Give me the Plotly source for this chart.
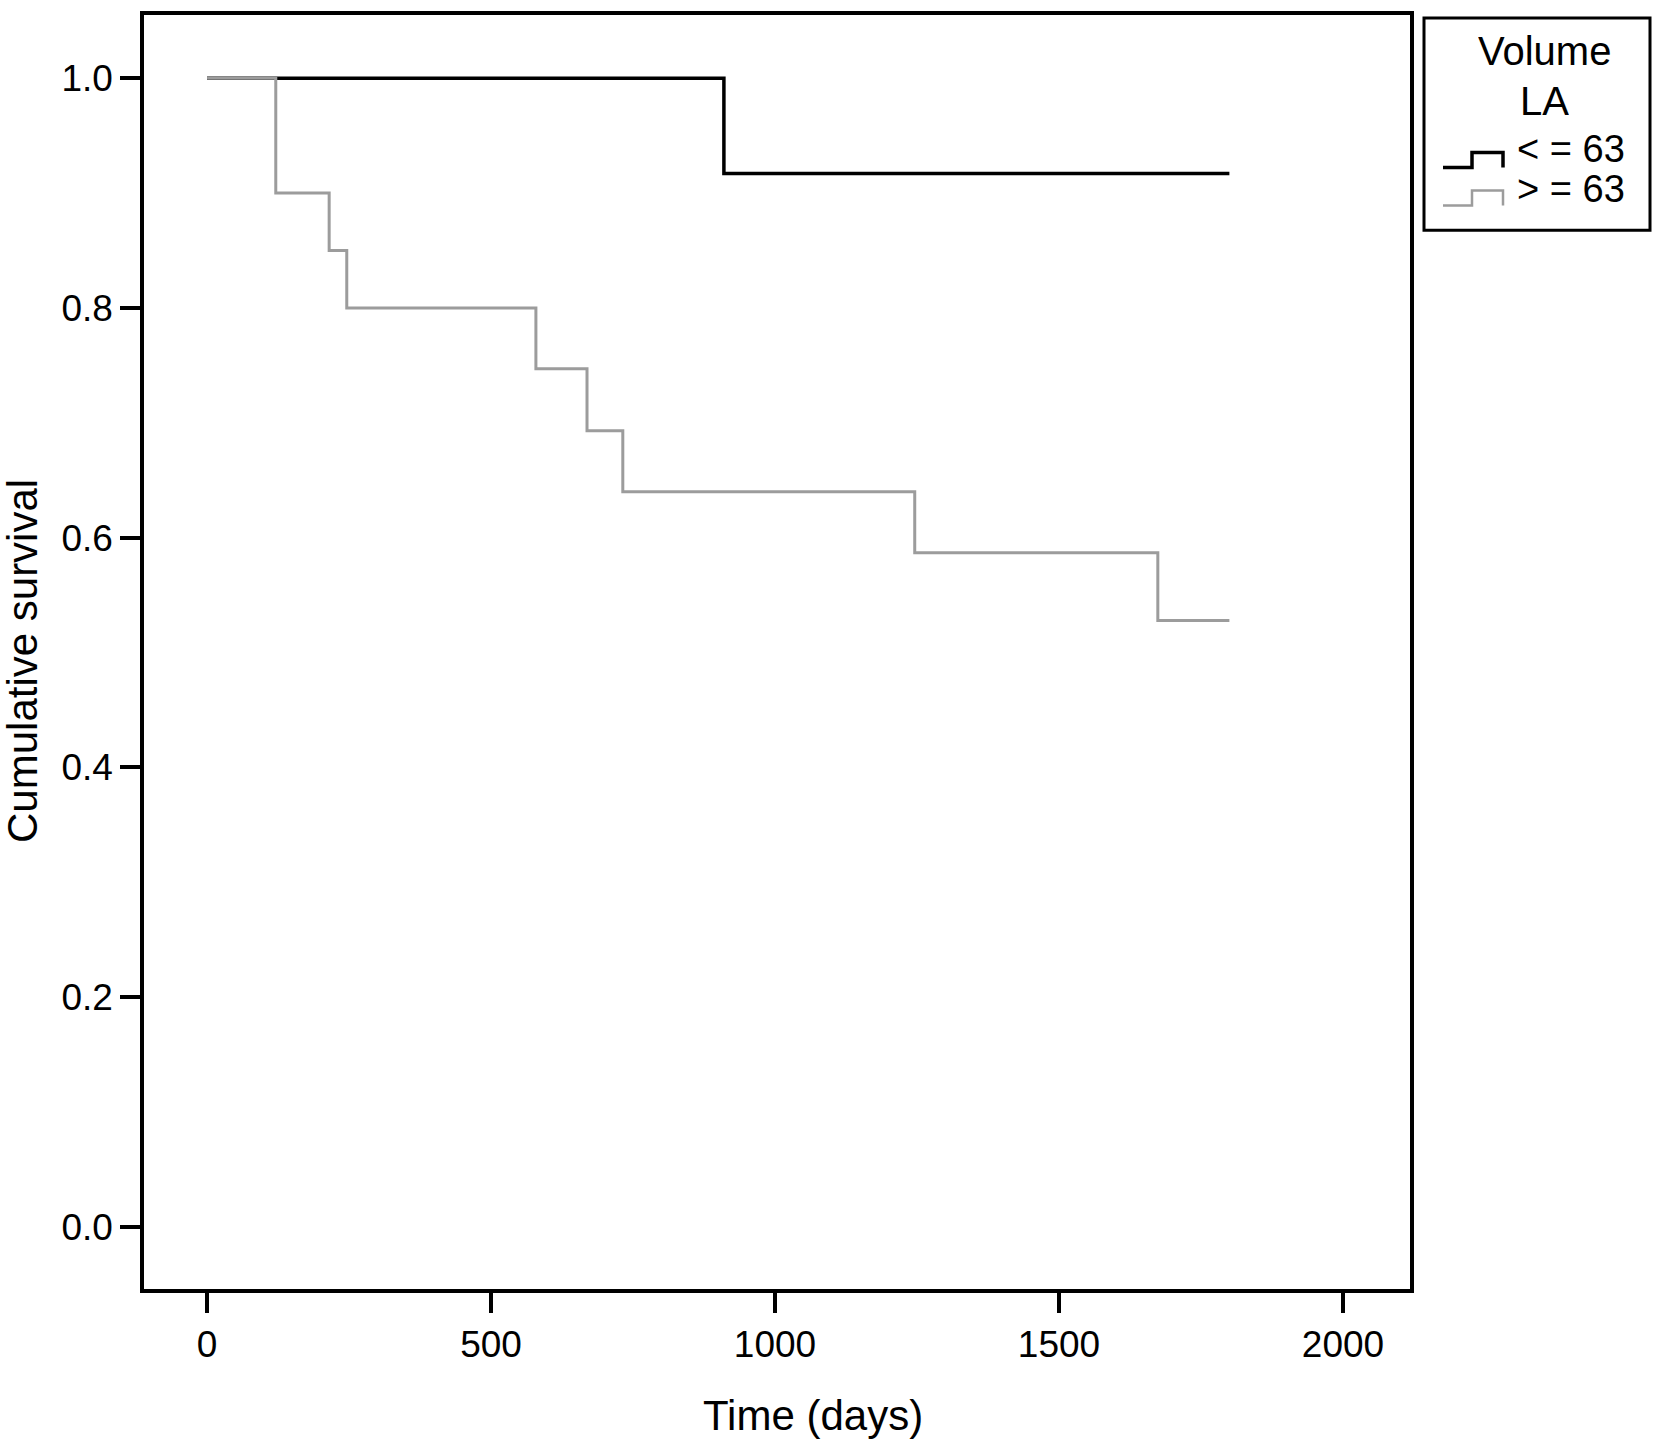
import plotly.graph_objects as go

# ---- data ----
low_time = [0, 910, 1800]
low_surv = [1.0, 0.917, 0.917]

high_time = [0, 121, 215, 246, 579, 669, 732, 1246, 1674, 1800]
high_surv = [1.0, 0.90, 0.85, 0.80, 0.747, 0.693, 0.640, 0.587, 0.528, 0.528]

series_names = ["< = 63", "> = 63"]
legend_title = ["Volume", "LA"]
x_ticks = [0, 500, 1000, 1500, 2000]
y_ticks = [0.0, 0.2, 0.4, 0.6, 0.8, 1.0]

# ---- layout geometry (pixels) ----
W, H = 1653, 1442
L, R, T, B = 144, 1410, 11, 1289
FONT = "Liberation Sans, Arial, Helvetica, sans-serif"
BLACK = "#000000"
GRAY = "#9c9c9c"


def px(x):
    return (x - L) / (R - L)


def py(y):
    return (B - y) / (B - T)


fig = go.Figure()
fig.add_trace(go.Scatter(x=low_time, y=low_surv, mode="lines", line_shape="hv",
                         line=dict(color=BLACK, width=3.5), name=series_names[0]))
fig.add_trace(go.Scatter(x=high_time, y=high_surv, mode="lines", line_shape="hv",
                         line=dict(color=GRAY, width=3), name=series_names[1]))

axis_common = dict(showgrid=False, zeroline=False, showline=True, mirror=True,
                   linecolor=BLACK, linewidth=3.5, ticks="outside", ticklen=20,
                   tickwidth=3.5, tickcolor=BLACK,
                   tickfont=dict(family=FONT, size=37, color=BLACK))

fig.update_xaxes(range=[-111, 2118], tickvals=x_ticks, **axis_common)
fig.update_yaxes(range=[-0.054, 1.055], tickvals=y_ticks, tickformat=".1f", **axis_common)

shapes = []
annotations = []

# axis titles
annotations.append(dict(text="Time (days)", x=px(813), y=py(1416), xref="paper", yref="paper",
                        showarrow=False, xanchor="center", yanchor="middle",
                        font=dict(family=FONT, size=42, color=BLACK)))
annotations.append(dict(text="Cumulative survival", x=px(23), y=py(659), xref="paper", yref="paper",
                        showarrow=False, xanchor="center", yanchor="middle", textangle=-90,
                        font=dict(family=FONT, size=42, color=BLACK)))

# legend box
shapes.append(dict(type="rect", xref="paper", yref="paper",
                   x0=px(1424), x1=px(1650), y0=py(227), y1=py(14),
                   line=dict(color=BLACK, width=3), fillcolor="white"))
annotations.append(dict(text=legend_title[0], x=px(1544), y=py(47), xref="paper", yref="paper",
                        showarrow=False, xanchor="center", yanchor="middle", height=44,
                        font=dict(family=FONT, size=40, color=BLACK)))
annotations.append(dict(text=legend_title[1], x=px(1544), y=py(97), xref="paper", yref="paper",
                        showarrow=False, xanchor="center", yanchor="middle", height=44,
                        font=dict(family=FONT, size=40, color=BLACK)))

entry_text_y = [145, 186]
entry_icon_y = [151, 189]
entry_colors = [BLACK, GRAY]
entry_widths = [3.5, 2.5]
for name, ty, ey, col, lw in zip(series_names, entry_text_y, entry_icon_y, entry_colors, entry_widths):
    annotations.append(dict(text=name, x=px(1515), y=py(ty), xref="paper", yref="paper",
                            showarrow=False, xanchor="left", yanchor="middle", height=36,
                            font=dict(family=FONT, size=38, color=BLACK)))
    yb, yt = ey + 13, ey - 2
    path = (f"M {px(1443)},{py(yb)} L {px(1472)},{py(yb)} L {px(1472)},{py(yt)} "
            f"L {px(1503)},{py(yt)} L {px(1503)},{py(yb)}")
    shapes.append(dict(type="path", xref="paper", yref="paper", path=path,
                       line=dict(color=col, width=lw)))

fig.update_layout(width=W, height=H, margin=dict(l=L, r=W - R, t=T, b=H - B),
                  plot_bgcolor="white", paper_bgcolor="white", showlegend=False,
                  shapes=shapes, annotations=annotations,
                  font=dict(family=FONT, color=BLACK))

fig.write_html("out.html", config={"displayModeBar": False},
               post_script="document.body.style.margin='0';document.body.style.overflow='hidden';")
